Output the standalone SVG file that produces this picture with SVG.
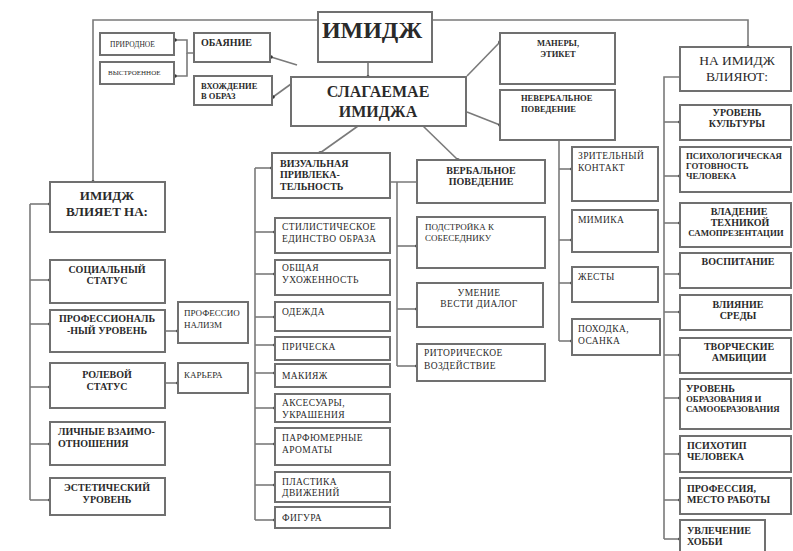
<svg xmlns="http://www.w3.org/2000/svg" width="793" height="551" viewBox="0 0 793 551">
<defs>
<marker id="dot" viewBox="0 0 4 4" refX="2" refY="2" markerWidth="4" markerHeight="4" markerUnits="userSpaceOnUse"><circle cx="2" cy="2" r="1.8" fill="#333"/></marker>
<style>
.b{fill:#fff;stroke:#707070;stroke-width:2}
.c{fill:none;stroke:#7a7a7a;stroke-width:1.6;marker-end:url(#dot)}
.n{fill:none;stroke:#7a7a7a;stroke-width:1.6}
text{font-family:"Liberation Serif","Times New Roman",serif;fill:#2a2a2a}
.r{font-size:9.5px;letter-spacing:0.4px}
.q{font-size:9px}
.p{font-size:9px}
.s{font-size:10px;font-weight:bold}
.w{font-size:8.8px;font-weight:bold}
.k{font-size:8.5px;font-weight:bold}
.m{text-anchor:middle}
.l{font-size:10px;font-weight:bold;text-anchor:middle}
.ls{font-size:10px;font-weight:bold}
</style>
</defs>
<rect width="793" height="551" fill="#fff"/>
<g id="connectors">
<path class="c" d="M318,20 H93 V182"/>
<path class="c" d="M432,20 H748 V47"/>
<path class="c" d="M368,62 V77"/>
<path class="c" d="M195,53 H187 V40 H175"/>
<path class="c" d="M187,53 V76 H175"/>
<path class="c" d="M297,65 L271,57"/>
<path class="c" d="M291,84 L273,97"/>
<path class="c" d="M358,126 L320,153"/>
<path class="c" d="M423,126 L458,160"/>
<path class="c" d="M467,76 L500,42"/>
<path class="c" d="M467,112 L500,125"/>
<path class="n" d="M30,204 V500"/>
<path class="c" d="M30,204 H50"/>
<path class="c" d="M30,280 H50"/>
<path class="c" d="M30,324 H50"/>
<path class="c" d="M30,387 H50"/>
<path class="c" d="M30,444 H50"/>
<path class="c" d="M30,500 H50"/>
<path class="c" d="M165,331 H178"/>
<path class="c" d="M165,383 H178"/>
<path class="n" d="M255,168 V520"/>
<path class="c" d="M255,168 H272"/>
<path class="c" d="M255,232 H275"/>
<path class="c" d="M255,274 H275"/>
<path class="c" d="M255,317 H275"/>
<path class="c" d="M255,345 H275"/>
<path class="c" d="M255,373 H275"/>
<path class="c" d="M255,408 H275"/>
<path class="c" d="M255,444 H275"/>
<path class="c" d="M255,485 H275"/>
<path class="c" d="M255,520 H275"/>
<path class="n" d="M390,182 H417 M397,182 V366"/>
<path class="c" d="M397,246 H417"/>
<path class="c" d="M397,309 H417"/>
<path class="c" d="M397,366 H417"/>
<path class="n" d="M559,140 V341"/>
<path class="c" d="M559,169 H572"/>
<path class="c" d="M559,240 H572"/>
<path class="c" d="M559,283 H572"/>
<path class="c" d="M559,341 H572"/>
<path class="n" d="M680,77 H664 V539"/>
<path class="c" d="M664,122 H680"/>
<path class="c" d="M664,176 H680"/>
<path class="c" d="M664,223 H680"/>
<path class="c" d="M664,274 H680"/>
<path class="c" d="M664,312 H680"/>
<path class="c" d="M664,355 H680"/>
<path class="c" d="M664,398 H680"/>
<path class="c" d="M664,454 H680"/>
<path class="c" d="M664,500 H680"/>
<path class="c" d="M664,539 H680"/>
</g>
<g id="imidzh"><rect class="b" x="318" y="12" width="114" height="50"/><text x="372" y="38" font-size="24" font-weight="bold" text-anchor="middle">ИМИДЖ</text></g>
<g id="prirodnoe"><rect class="b" x="100" y="33" width="74" height="22"/><text x="110" y="47" font-size="7.5">ПРИРОДНОЕ</text></g>
<g id="vystroennoe"><rect class="b" x="100" y="62" width="74" height="22"/><text x="108" y="75" font-size="7">ВЫСТРОЕННОЕ</text></g>
<g id="obayanie"><rect class="b" x="194" y="33" width="76" height="29"/><text class="s" x="201" y="46">ОБАЯНИЕ</text></g>
<g id="vhozhdenie"><rect class="b" x="194" y="76" width="78" height="29"/><text class="k" x="201" y="89">ВХОЖДЕНИЕ</text><text class="k" x="201" y="99">В ОБРАЗ</text></g>
<g id="slagaemae"><rect class="b" x="291" y="77" width="175" height="49"/><text x="378" y="97" font-size="16" font-weight="bold" text-anchor="middle">СЛАГАЕМАЕ</text><text x="378" y="117" font-size="16" font-weight="bold" text-anchor="middle">ИМИДЖА</text></g>
<g id="manery"><rect class="b" x="500" y="33" width="115" height="51"/><text class="k m" x="558" y="46">МАНЕРЫ,</text><text class="k m" x="558" y="57">ЭТИКЕТ</text></g>
<g id="neverbalnoe"><rect class="b" x="500" y="90" width="115" height="50"/><text class="k" x="521" y="101">НЕВЕРБАЛЬНОЕ</text><text class="k" x="521" y="112">ПОВЕДЕНИЕ</text></g>
<g id="na-imidzh"><rect class="b" x="680" y="47" width="111" height="44"/><text x="737" y="65" font-size="13.5" text-anchor="middle">НА ИМИДЖ</text><text x="737" y="81" font-size="13.5" text-anchor="middle">ВЛИЯЮТ:</text></g>
<g id="vliyaet-na"><rect class="b" x="50" y="182" width="115" height="50"/><text x="107" y="200" font-size="13" font-weight="bold" text-anchor="middle">ИМИДЖ</text><text x="107" y="216" font-size="13" font-weight="bold" text-anchor="middle">ВЛИЯЕТ НА:</text></g>
<g id="socialnyj"><rect class="b" x="50" y="260" width="115" height="43"/><text class="l" x="107" y="273">СОЦИАЛЬНЫЙ</text><text class="l" x="107" y="284">СТАТУС</text></g>
<g id="professionalnyj"><rect class="b" x="50" y="310" width="115" height="42"/><text class="l" x="107" y="322">ПРОФЕССИОНАЛЬ</text><text class="l" x="107" y="334">-НЫЙ УРОВЕНЬ</text></g>
<g id="rolevoj"><rect class="b" x="50" y="363" width="115" height="45"/><text class="l" x="107" y="378">РОЛЕВОЙ</text><text class="l" x="107" y="390">СТАТУС</text></g>
<g id="lichnye"><rect class="b" x="50" y="422" width="115" height="43"/><text class="ls" x="58" y="435">ЛИЧНЫЕ ВЗАИМО-</text><text class="ls" x="58" y="447">ОТНОШЕНИЯ</text></g>
<g id="esteticheskij"><rect class="b" x="50" y="478" width="115" height="37"/><text class="l" x="107" y="491">ЭСТЕТИЧЕСКИЙ</text><text class="l" x="107" y="503">УРОВЕНЬ</text></g>
<g id="professionalizm"><rect class="b" x="178" y="302" width="70" height="41"/><text class="p" x="184" y="316">ПРОФЕССИО</text><text class="p" x="184" y="328">НАЛИЗМ</text></g>
<g id="karera"><rect class="b" x="178" y="363" width="70" height="30"/><text class="p" x="184" y="378">КАРЬЕРА</text></g>
<g id="vizualnaya"><rect class="b" x="272" y="153" width="118" height="45"/><text class="s" x="280" y="167">ВИЗУАЛЬНАЯ</text><text class="s" x="280" y="178">ПРИВЛЕКА-</text><text class="s" x="280" y="190">ТЕЛЬНОСТЬ</text></g>
<g id="stilisticheskoe"><rect class="b" x="275" y="218" width="115" height="35"/><text class="r" x="282" y="230">СТИЛИСТИЧЕСКОЕ</text><text class="r" x="282" y="242">ЕДИНСТВО ОБРАЗА</text></g>
<g id="uhozhennost"><rect class="b" x="275" y="260" width="115" height="35"/><text class="r" x="282" y="271">ОБЩАЯ</text><text class="r" x="282" y="283">УХОЖЕННОСТЬ</text></g>
<g id="odezhda"><rect class="b" x="275" y="302" width="115" height="29"/><text class="r" x="282" y="315">ОДЕЖДА</text></g>
<g id="pricheska"><rect class="b" x="275" y="337" width="115" height="23"/><text class="r" x="282" y="350">ПРИЧЕСКА</text></g>
<g id="makiyazh"><rect class="b" x="275" y="364" width="115" height="23"/><text class="r" x="282" y="379">МАКИЯЖ</text></g>
<g id="aksesuary"><rect class="b" x="275" y="394" width="115" height="28"/><text class="r" x="282" y="406">АКСЕСУАРЫ,</text><text class="r" x="282" y="418">УКРАШЕНИЯ</text></g>
<g id="parfyum"><rect class="b" x="275" y="428" width="115" height="37"/><text class="r" x="282" y="441">ПАРФЮМЕРНЫЕ</text><text class="r" x="282" y="453">АРОМАТЫ</text></g>
<g id="plastika"><rect class="b" x="275" y="472" width="115" height="30"/><text class="r" x="282" y="485">ПЛАСТИКА</text><text class="r" x="282" y="496">ДВИЖЕНИЙ</text></g>
<g id="figura"><rect class="b" x="275" y="507" width="115" height="21"/><text class="r" x="282" y="521">ФИГУРА</text></g>
<g id="verbalnoe"><rect class="b" x="417" y="160" width="128" height="43"/><text class="s m" x="481" y="174">ВЕРБАЛЬНОЕ</text><text class="s m" x="481" y="185">ПОВЕДЕНИЕ</text></g>
<g id="podstrojka"><rect class="b" x="417" y="217" width="128" height="51"/><text class="q" x="425" y="230">ПОДСТРОЙКА К</text><text class="q" x="425" y="241">СОБЕСЕДНИКУ</text></g>
<g id="umenie"><rect class="b" x="417" y="283" width="126" height="44"/><text class="r m" x="479" y="296">УМЕНИЕ</text><text class="r m" x="479" y="307">ВЕСТИ ДИАЛОГ</text></g>
<g id="ritoricheskoe"><rect class="b" x="417" y="344" width="128" height="37"/><text class="r" x="424" y="356">РИТОРИЧЕСКОЕ</text><text class="r" x="424" y="369">ВОЗДЕЙСТВИЕ</text></g>
<g id="zritelnyj"><rect class="b" x="572" y="147" width="86" height="54"/><text class="r" x="578" y="159">ЗРИТЕЛЬНЫЙ</text><text class="r" x="578" y="171">КОНТАКТ</text></g>
<g id="mimika"><rect class="b" x="572" y="210" width="86" height="42"/><text class="r" x="578" y="223">МИМИКА</text></g>
<g id="zhesty"><rect class="b" x="572" y="267" width="86" height="35"/><text class="r" x="578" y="280">ЖЕСТЫ</text></g>
<g id="pohodka"><rect class="b" x="572" y="319" width="88" height="36"/><text class="r" x="578" y="332">ПОХОДКА,</text><text class="r" x="578" y="344">ОСАНКА</text></g>
<g id="kultura"><rect class="b" x="680" y="105" width="111" height="35"/><text class="s m" x="737" y="116">УРОВЕНЬ</text><text class="s m" x="737" y="127">КУЛЬТУРЫ</text></g>
<g id="psihologicheskaya"><rect class="b" x="680" y="147" width="111" height="45"/><text class="w" x="686" y="159">ПСИХОЛОГИЧЕСКАЯ</text><text class="w" x="686" y="169">ГОТОВНОСТЬ</text><text class="w" x="686" y="179">ЧЕЛОВЕКА</text></g>
<g id="vladenie"><rect class="b" x="680" y="203" width="111" height="44"/><text class="s m" x="739" y="215">ВЛАДЕНИЕ</text><text class="s m" x="740" y="226">ТЕХНИКОЙ</text><text class="w m" x="736" y="236">САМОПРЕЗЕНТАЦИИ</text></g>
<g id="vospitanie"><rect class="b" x="680" y="253" width="111" height="35"/><text class="s m" x="738" y="265">ВОСПИТАНИЕ</text></g>
<g id="sreda"><rect class="b" x="680" y="295" width="111" height="35"/><text class="s m" x="738" y="308">ВЛИЯНИЕ</text><text class="s m" x="738" y="319">СРЕДЫ</text></g>
<g id="tvorcheskie"><rect class="b" x="680" y="338" width="111" height="35"/><text class="s m" x="739" y="350">ТВОРЧЕСКИЕ</text><text class="s m" x="739" y="361">АМБИЦИИ</text></g>
<g id="obrazovanie"><rect class="b" x="680" y="379" width="111" height="50"/><text class="s" x="686" y="392">УРОВЕНЬ</text><text class="w" x="686" y="402">ОБРАЗОВАНИЯ И</text><text class="w" x="686" y="412">САМООБРАЗОВАНИЯ</text></g>
<g id="psihotip"><rect class="b" x="680" y="436" width="111" height="36"/><text class="s" x="687" y="449">ПСИХОТИП</text><text class="s" x="687" y="460">ЧЕЛОВЕКА</text></g>
<g id="professiya"><rect class="b" x="680" y="478" width="111" height="36"/><text class="s" x="687" y="492">ПРОФЕССИЯ,</text><text class="s" x="687" y="503">МЕСТО РАБОТЫ</text></g>
<g id="uvlechenie"><rect class="b" x="680" y="520" width="85" height="40"/><text class="s" x="687" y="534">УВЛЕЧЕНИЕ</text><text class="s" x="687" y="545">ХОББИ</text></g>
</svg>
